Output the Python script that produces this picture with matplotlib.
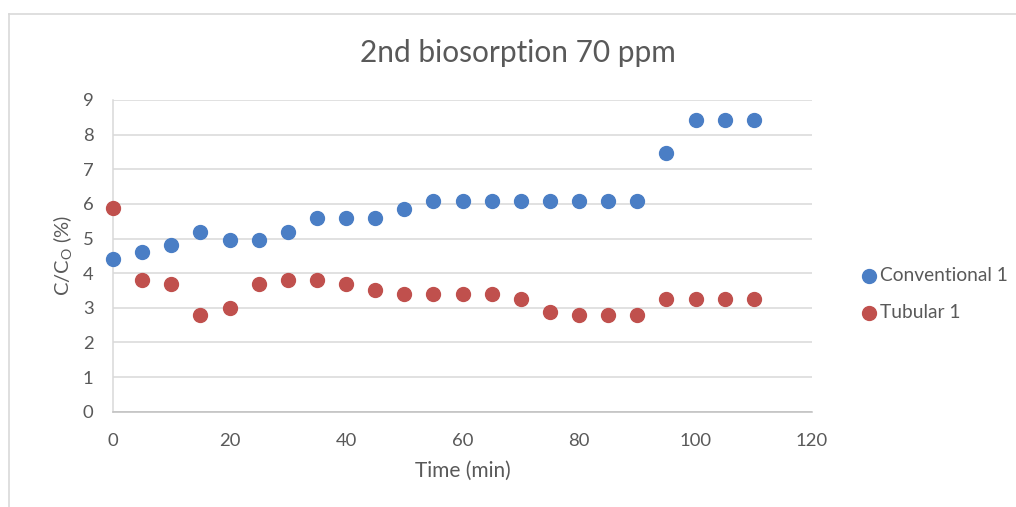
import matplotlib
matplotlib.use("Agg")
import matplotlib.pyplot as plt
from matplotlib.lines import Line2D

plt.rcParams['font.family'] = ['Lato', 'DejaVu Sans']
plt.rcParams['mathtext.fontset'] = 'custom'
plt.rcParams['mathtext.rm'] = 'Lato'
plt.rcParams['mathtext.it'] = 'Lato'

time_min = [0, 5, 10, 15, 20, 25, 30, 35, 40, 45, 50, 55, 60, 65, 70, 75, 80, 85, 90, 95, 100, 105, 110]
conventional_1 = [4.4, 4.6, 4.8, 5.2, 4.95, 4.95, 5.2, 5.6, 5.6, 5.6, 5.85, 6.07, 6.07, 6.07, 6.07,
                  6.07, 6.07, 6.07, 6.07, 7.46, 8.41, 8.41, 8.41]
tubular_1 = [5.87, 3.8, 3.68, 2.78, 3.0, 3.68, 3.8, 3.8, 3.68, 3.51, 3.4, 3.4, 3.4, 3.4, 3.26,
             2.89, 2.78, 2.78, 2.78, 3.26, 3.26, 3.26, 3.26]
x_ticks = [0, 20, 40, 60, 80, 100, 120]
y_ticks = list(range(0, 10))

BLUE = '#4A7EC5'
RED = '#C0504D'
TEXT = '#595959'
GRID = '#D9D9D9'

fig = plt.figure(figsize=(10.16, 5.07), dpi=100)
fig.patch.set_facecolor('white')

# chart frame (top and left edges)
fig.add_artist(Line2D([9 / 1016, 9 / 1016], [0, 1 - 14 / 507], transform=fig.transFigure,
                      color=GRID, lw=1.2))
fig.add_artist(Line2D([9 / 1016, 1], [1 - 14 / 507, 1 - 14 / 507], transform=fig.transFigure,
                      color=GRID, lw=1.2))

ax = fig.add_axes([113 / 1016, (507 - 411.7) / 507, (812 - 113) / 1016, (411.7 - 100) / 507])
ax.scatter(time_min, conventional_1, s=100, color=BLUE, zorder=3, label='Conventional 1', clip_on=False)
ax.scatter(time_min, tubular_1, s=100, color=RED, zorder=3, label='Tubular 1', clip_on=False)

ax.set_xlim(0, 120)
ax.set_ylim(0, 9)
ax.set_xticks(x_ticks)
ax.set_yticks(y_ticks)
ax.tick_params(axis='both', length=0, labelsize=13.3, labelcolor=TEXT)
ax.tick_params(axis='y', pad=14)
ax.tick_params(axis='x', pad=15)
ax.yaxis.grid(True, color=GRID, lw=1.1)
ax.set_axisbelow(True)
for side in ['top', 'right']:
    ax.spines[side].set_visible(False)
ax.spines['left'].set_color(GRID)
ax.spines['bottom'].set_color('#BFBFBF')
ax.spines['left'].set_linewidth(1.1)
ax.spines['bottom'].set_linewidth(1.1)

ax.set_xlabel('Time (min)', fontsize=15, color=TEXT, labelpad=9)
ax.set_ylabel(r'C/C$_\mathrm{O}$ (%)', fontsize=14.5, color=TEXT, labelpad=6)
fig.text(518 / 1016, 1 - 53 / 507, '2nd biosorption 70 ppm', ha='center', va='center',
         fontsize=21.5, color=TEXT)

leg = fig.legend(loc='upper left', bbox_to_anchor=(841 / 1016, 1 - 250 / 507), frameon=False,
                 fontsize=13.8, labelcolor=TEXT, handletextpad=0.05, labelspacing=1.05,
                 markerscale=1.0, handlelength=1.1)

fig.savefig('out.png', dpi=100, facecolor='white')
